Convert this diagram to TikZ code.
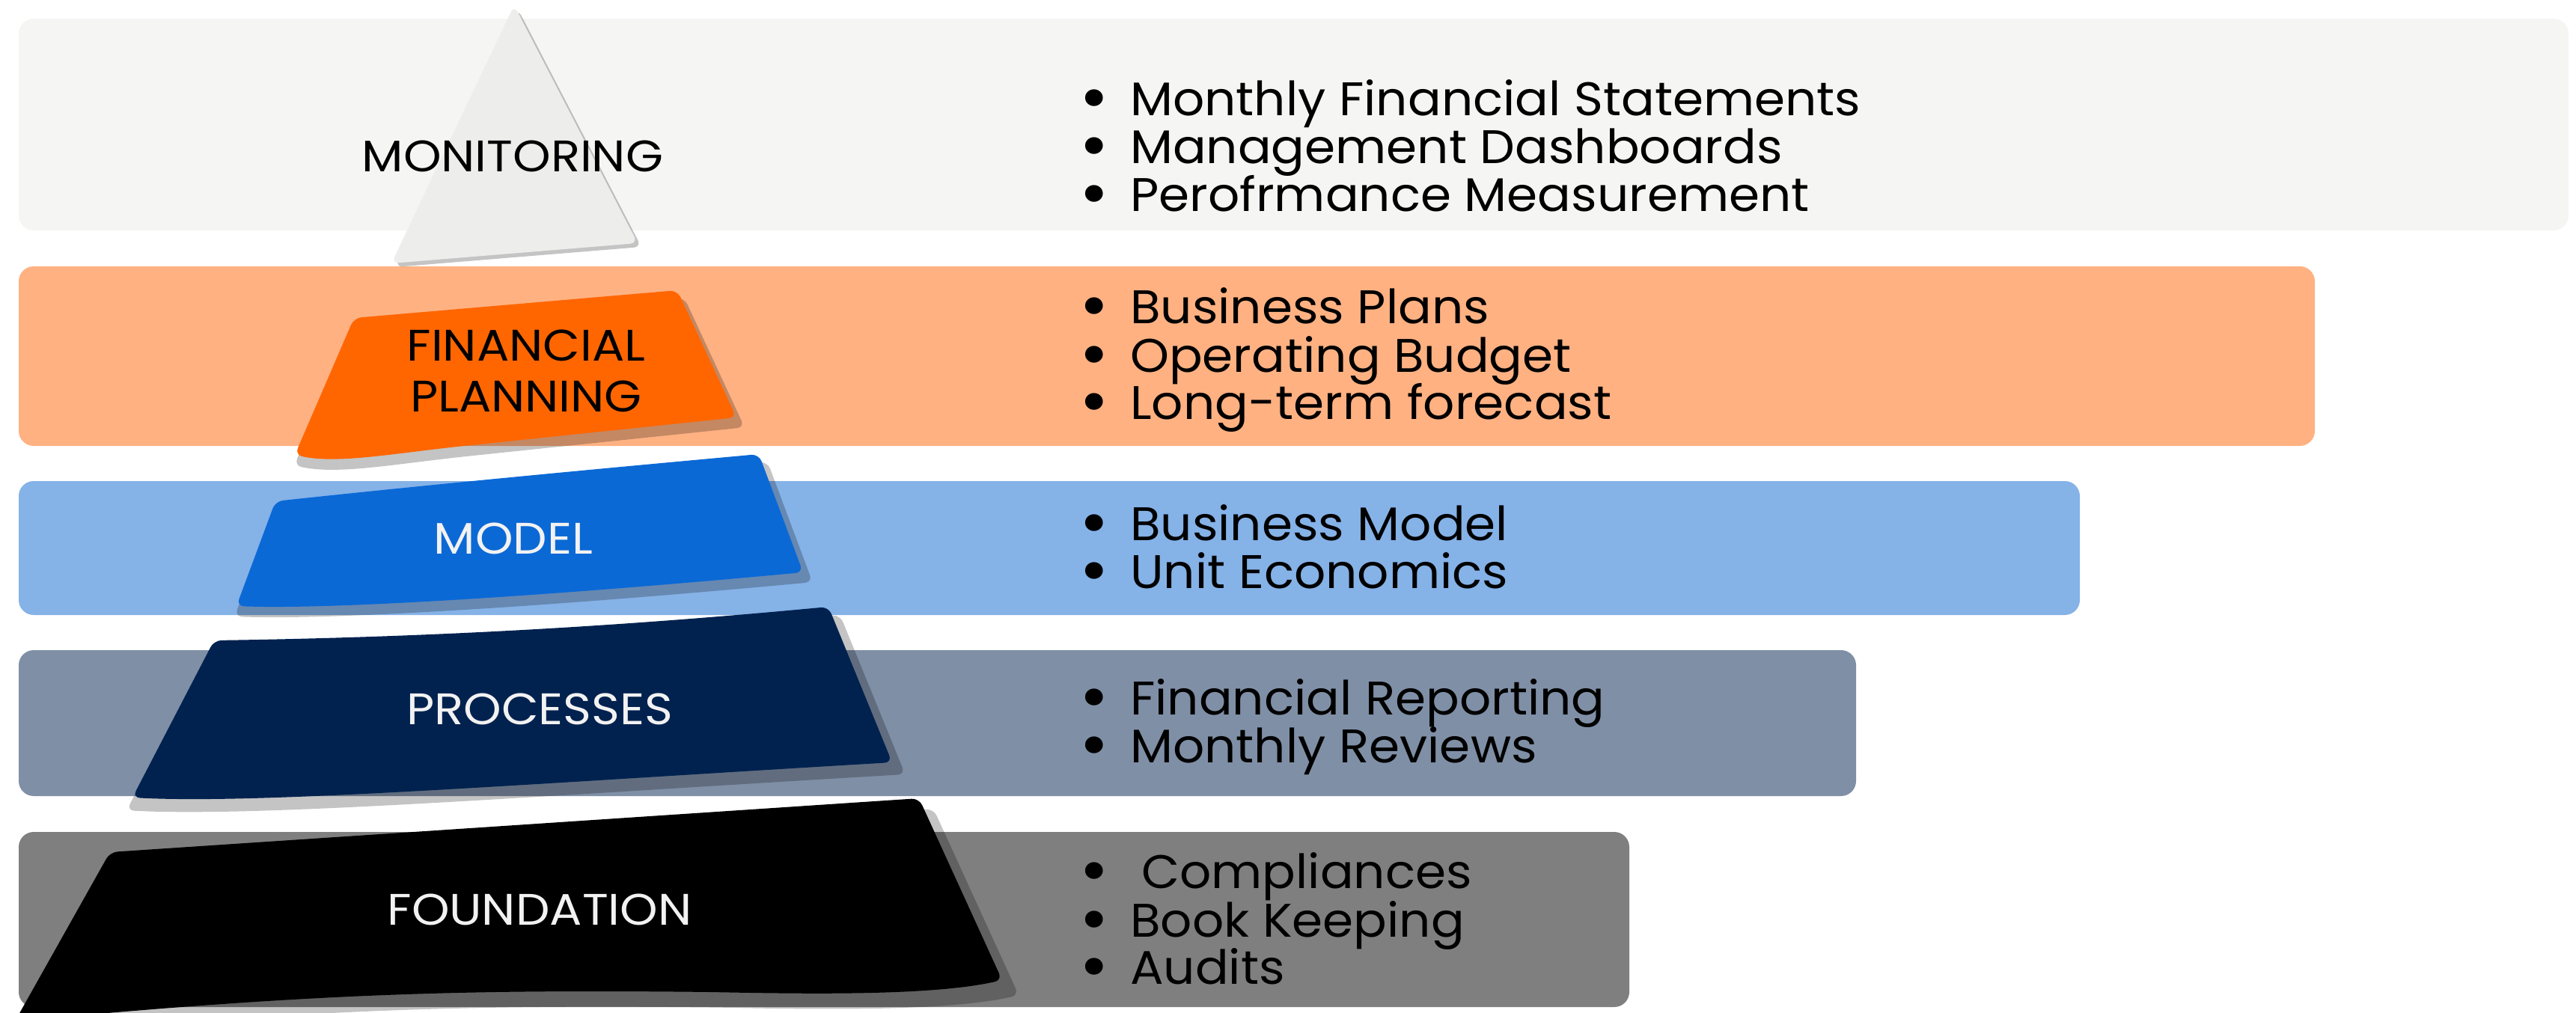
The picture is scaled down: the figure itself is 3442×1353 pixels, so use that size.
\documentclass[tikz,border=0pt]{standalone}
\usepackage{fontspec}
\setmainfont{Poppins}
\newfontfamily\labfamily[FakeStretch=1.09]{Poppins}
\newfontfamily\itemfamily[FakeStretch=1.05]{Poppins}
\definecolor{topband}{HTML}{F5F5F3}
\definecolor{trifill}{HTML}{EDEDEB}
\definecolor{orangeband}{HTML}{FFB182}
\definecolor{orangetier}{HTML}{FF6600}
\definecolor{blueband}{HTML}{85B2E7}
\definecolor{bluetier}{HTML}{0B69D6}
\definecolor{slateband}{HTML}{7F8FA6}
\definecolor{navytier}{HTML}{01224F}
\definecolor{greyband}{HTML}{7F7F7F}
\definecolor{labwhite}{HTML}{F2F2F2}
\newcommand\labfont{\labfamily\fontsize{59}{68}\selectfont}
\newcommand\itemfont{\itemfamily\fontsize{63}{64}\selectfont}
% enlarged bullet glyph; its box is smashed so it takes no line height
\newcommand\bigdot{\smash{\raisebox{-7pt}{\scalebox{1.45}{\textbullet}}}}
\tikzset{
  band/.style={rounded corners=20pt},
  shadowfill/.style={fill=black, fill opacity=0.23, rounded corners=10pt},
  tier/.style={rounded corners=10pt},
  lab/.style={font=\labfont, align=center, inner sep=0pt},
  bul/.style={font=\itemfont, anchor=base, inner sep=0pt},
  itm/.style={font=\itemfont, anchor=base west, inner sep=0pt},
  tripath/.style={insert path={(687,7) -- (852,325) -- (523,352) -- cycle}},
  finpath/.style={insert path={(473,425) -- (905,388) -- (984,558) -- (620,596)
      .. controls (520,607) and (450,620) .. (394,608) -- cycle}},
  modpath/.style={insert path={(368,670) .. controls (600,645) and (850,622) .. (1014,607)
      -- (1073,765) .. controls (750,795) and (450,815) .. (316,810) -- cycle}},
  procpath/.style={insert path={(286,856) .. controls (550,852) and (800,840) .. (1107,811)
      -- (1192,1019) .. controls (700,1048) and (350,1075) .. (177,1066) -- cycle}},
  foundpath/.style={insert path={(147,1139) -- (1228,1067) -- (1339,1310)
      .. controls (1250,1330) and (1100,1329) .. (950,1326)
      .. controls (600,1322) and (400,1330) .. (20,1365) -- cycle}},
}
\begin{document}
\begin{tikzpicture}[x=1pt,y=-1pt]
\useasboundingbox (0,0) rectangle (3442,1353);
\clip (0,0) rectangle (3442,1353);

% background bands
\fill[band, topband]    (25,25)   rectangle (3432,308);
\fill[band, orangeband] (25,356)  rectangle (3093,596);
\fill[band, blueband]   (25,643)  rectangle (2779,822);
\fill[band, slateband]  (25,869)  rectangle (2480,1064);
\fill[band, greyband]   (25,1112) rectangle (2177,1346);

% drop shadows of the tiers
\begin{scope}[shift={(5,5)}]
  \fill[shadowfill, tripath];
\end{scope}
\begin{scope}[shift={(5,12)}, scale around={1.02:(690,500)}]
  \fill[shadowfill, finpath];
\end{scope}
\begin{scope}[shift={(5,12)}, scale around={1.02:(690,710)}]
  \fill[shadowfill, modpath];
\end{scope}
\begin{scope}[shift={(5,14)}, scale around={1.025:(690,940)}]
  \fill[shadowfill, procpath];
\end{scope}
\begin{scope}[shift={(6,18)}, scale around={1.025:(690,1220)}]
  \fill[shadowfill, foundpath];
\end{scope}

% pyramid tiers
\fill[tier, trifill]    [tripath];
\fill[tier, orangetier] [finpath];
\fill[tier, bluetier]   [modpath];
\fill[tier, navytier]   [procpath];
\fill[tier, black]      [foundpath];

% tier labels
\node[lab, text=black]    (monitoring) at (685,209)  {MONITORING};
\node[lab, text=black]    (finplan)    at (703,496)  {FINANCIAL\\PLANNING};
\node[lab, text=labwhite] (model)      at (686,720)  {MODEL};
\node[lab, text=labwhite] (processes)  at (721,948)  {PROCESSES};
\node[lab, text=labwhite] (foundation) at (721,1216) {FOUNDATION};

% bullet lists
\node[bul] (b11) at (1462,154) {\bigdot};
\node[itm] (t11) at (1510,154) {Monthly Financial Statements};
\node[bul] (b12) at (1462,218) {\bigdot};
\node[itm] (t12) at (1510,218) {Management Dashboards};
\node[bul] (b13) at (1462,282) {\bigdot};
\node[itm] (t13) at (1510,282) {Perofrmance Measurement};

\node[bul] (b21) at (1462,432) {\bigdot};
\node[itm] (t21) at (1510,432) {Business Plans};
\node[bul] (b22) at (1462,497) {\bigdot};
\node[itm] (t22) at (1510,497) {Operating Budget};
\node[bul] (b23) at (1462,560) {\bigdot};
\node[itm] (t23) at (1510,560) {Long-term forecast};

\node[bul] (b31) at (1462,722) {\bigdot};
\node[itm] (t31) at (1510,722) {Business Model};
\node[bul] (b32) at (1462,786) {\bigdot};
\node[itm] (t32) at (1510,786) {Unit Economics};

\node[bul] (b41) at (1462,955) {\bigdot};
\node[itm] (t41) at (1510,955) {Financial Reporting};
\node[bul] (b42) at (1462,1019) {\bigdot};
\node[itm] (t42) at (1510,1019) {Monthly Reviews};

\node[bul] (b51) at (1462,1187) {\bigdot};
\node[itm] (t51) at (1525,1187) {Compliances};
\node[bul] (b52) at (1462,1252) {\bigdot};
\node[itm] (t52) at (1510,1252) {Book Keeping};
\node[bul] (b53) at (1462,1315) {\bigdot};
\node[itm] (t53) at (1510,1315) {Audits};
\end{tikzpicture}
\end{document}
